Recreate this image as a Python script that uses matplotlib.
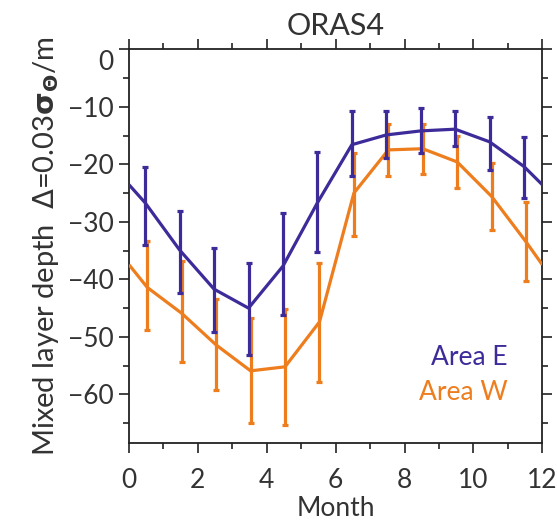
import numpy as np
import matplotlib
matplotlib.use('Agg')
import matplotlib.pyplot as plt
import matplotlib.transforms as mtransforms
from matplotlib.ticker import MultipleLocator

# monthly climatology of mixed layer depth (m), months 1..12
months = np.arange(1, 13)
area_e = [-26.7, -34.9, -41.7, -45.0, -37.7, -26.7, -16.6, -14.9, -14.2, -13.9, -16.1, -20.4]
area_e_top = [-20.4, -28.2, -34.6, -37.2, -28.5, -17.9, -10.8, -10.8, -10.3, -10.8, -11.7, -15.2]
area_e_bot = [-34.1, -42.3, -49.1, -53.1, -46.2, -35.2, -22.1, -18.9, -18.1, -16.9, -21.0, -25.9]

area_w = [-41.4, -45.9, -51.4, -55.9, -55.2, -47.4, -25.0, -17.5, -17.3, -19.6, -25.6, -33.5]
area_w_top = [-33.4, -36.8, -43.4, -46.8, -45.2, -37.1, -18.1, -13.0, -13.0, -15.0, -19.8, -26.5]
area_w_bot = [-48.8, -54.3, -59.3, -64.9, -65.3, -57.8, -32.5, -22.1, -21.7, -24.1, -31.4, -40.2]

col_e = '#3d2b9a'
col_w = '#ee7d1e'
txt = '#333333'

plt.rcParams['font.family'] = ['Lato', 'DejaVu Sans']
plt.rcParams['mathtext.fontset'] = 'dejavusans'

fig = plt.figure(figsize=(5.57, 5.29), dpi=100)
ax = fig.add_axes([0.2316, 0.163, 0.742, 0.744])


def draw_area(vals, top, bot, color, shift):
    vals = np.array(vals)
    x = months - 0.5 + shift
    # wrap the annual cycle to the edges of the axis
    edge = (vals[0] + vals[-1]) / 2
    xl = np.concatenate([[0], x, [12]])
    yl = np.concatenate([[edge], vals, [edge]])
    ax.plot(xl, yl, color=color, lw=2.3, solid_capstyle='butt', zorder=3)
    err = [vals - np.array(bot), np.array(top) - vals]
    ax.errorbar(x, vals, yerr=err, fmt='none', ecolor=color, elinewidth=2.3,
                capsize=2.5, capthick=2.3, zorder=3)


draw_area(area_w, area_w_top, area_w_bot, col_w, 0.03)
draw_area(area_e, area_e_top, area_e_bot, col_e, -0.03)

ax.set_xlim(0, 12)
ax.set_ylim(-68.4, 0)
ax.xaxis.set_major_locator(MultipleLocator(2))
ax.xaxis.set_minor_locator(MultipleLocator(1))
ax.yaxis.set_major_locator(MultipleLocator(10))
ax.yaxis.set_minor_locator(MultipleLocator(5))
ax.tick_params(which='both', direction='out', top=True, right=True,
               labeltop=False, labelright=False, color='#222222', width=1.2)
ax.tick_params(which='major', length=7, labelsize=19, labelcolor=txt)
ax.tick_params(axis='x', which='major', pad=11)
ax.tick_params(axis='y', which='major', pad=4)
ax.tick_params(which='minor', length=4)
for s in ax.spines.values():
    s.set_linewidth(1.3)
    s.set_color('#222222')

ax.set_yticks(np.arange(-60, 1, 10))
ax.set_yticklabels(['\u221260', '\u221250', '\u221240', '\u221230', '\u221220', '\u221210', '0'])
ax.set_xticks(np.arange(0, 13, 2))
ax.set_xticklabels(['0', '2', '4', '6', '8', '10', '12'])

# the top label sits a little below its tick in the original
lab0 = ax.get_yticklabels()[-1]
lab0.set_transform(lab0.get_transform() + mtransforms.ScaledTranslation(0, -8 / 72, fig.dpi_scale_trans))

ax.set_title('ORAS4', fontsize=22, color=txt, pad=10)
ax.set_xlabel('Month', fontsize=19, color=txt, labelpad=2)
ax.set_ylabel(r'Mixed layer depth  $\Delta$=0.03$\mathbf{\sigma_{\Theta}}$/m', fontsize=21,
              color=txt, labelpad=5)

ax.text(0.915, 0.198, 'Area E', transform=ax.transAxes, color=col_e, fontsize=19, ha='right')
ax.text(0.915, 0.109, 'Area W', transform=ax.transAxes, color=col_w, fontsize=19, ha='right')

fig.savefig('out.png', dpi=100)
